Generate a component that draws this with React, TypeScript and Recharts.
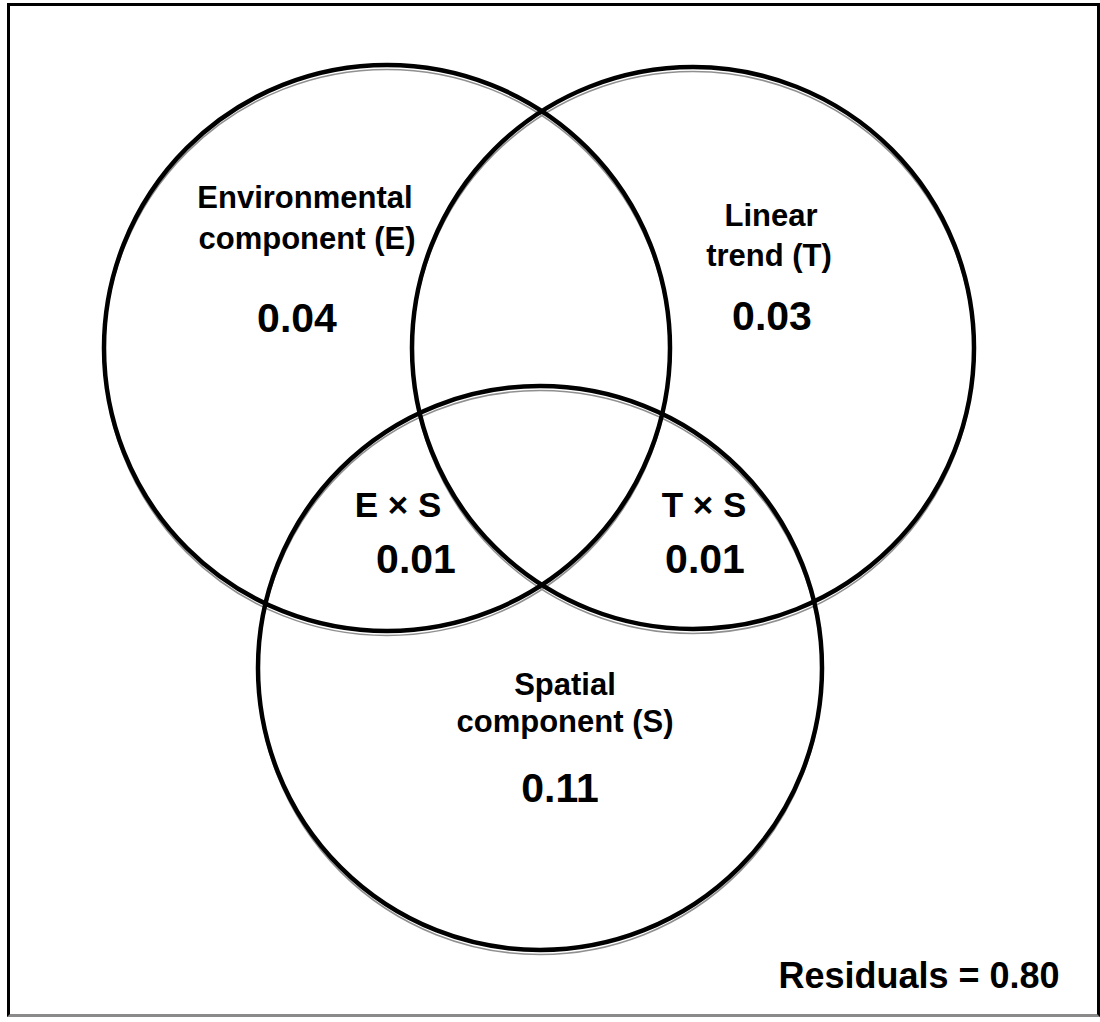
import { ScatterChart, Scatter, XAxis, YAxis } from 'recharts';

// plot units: 0-110 across, 0-102.2 down (top to bottom)
const setNames = ['E', 'T', 'S'];
const setCx = [38.7, 69.3, 54.0];
const setCy = [34.8, 34.8, 66.8];
const setR = [28.3, 28.1, 28.2];

const labelText = [
  'Environmental', 'component (E)', '0.04',
  'Linear', 'trend (T)', '0.03',
  'E × S', '0.01',
  'T × S', '0.01',
  'Spatial', 'component (S)', '0.11',
  'Residuals = 0.80',
];
const labelKind = [
  'name', 'name', 'value',
  'name', 'name', 'value',
  'cross', 'value',
  'cross', 'value',
  'name', 'name', 'value',
  'resid',
];
const labelX = [30.5, 30.7, 29.7, 77.1, 76.9, 77.2, 39.8, 41.6, 70.4, 70.5, 56.5, 56.5, 56.0, 91.9];
const labelY = [20.8, 24.9, 33.2, 22.6, 26.6, 33.0, 51.7, 57.3, 51.7, 57.3, 69.5, 73.2, 80.2, 98.8];

const fontSizes: Record<string, number> = { name: 31, value: 41, cross: 35, resid: 36 };
const FONT = '"Liberation Sans", Arial, Helvetica, sans-serif';

const circles = setNames.map((name, i) => ({ name, x: setCx[i], y: setCy[i], r: setR[i] }));
const labels = labelText.map((text, i) => ({ text, kind: labelKind[i], x: labelX[i], y: labelY[i] }));

function radiusPx(props: any) {
  const { payload, xAxis } = props;
  const scale = xAxis?.scale;
  if (scale) return Math.abs(scale(payload.x + payload.r) - scale(payload.x));
  return payload.r * 10;
}

// faint second line just below each ring, as in the scanned original
function Ghost(props: any) {
  const { cx, cy } = props;
  return <circle cx={cx} cy={cy + 4.5} r={radiusPx(props)} fill="none" stroke="#909090" strokeWidth={1.6} />;
}

function Ring(props: any) {
  const { cx, cy } = props;
  return <circle cx={cx} cy={cy} r={radiusPx(props)} fill="none" stroke="#000" strokeWidth={4.5} />;
}

function Label(props: any) {
  const { cx, cy, payload } = props;
  return (
    <text x={cx} y={cy} textAnchor="middle" fontFamily={FONT} fontWeight="bold"
      fontSize={fontSizes[payload.kind]} fill="#000">
      {payload.text}
    </text>
  );
}

export default function App() {
  return (
    <div style={{ position: 'absolute', left: 0, top: 0, width: 1100, height: 1022, background: '#fff' }}>
      <div style={{
        position: 'absolute', left: 7, top: 3, width: 1093, height: 1014, boxSizing: 'border-box',
        borderTop: '3px solid #000', borderLeft: '3px solid #000', borderRight: '3px solid #000',
        borderBottom: '3px solid #8a8a8a',
      }} />
      <div style={{ position: 'absolute', left: 0, top: 0 }}>
        <ScatterChart width={1100} height={1022} margin={{ top: 0, right: 0, bottom: 0, left: 0 }}>
          <XAxis type="number" dataKey="x" domain={[0, 110]} hide allowDataOverflow />
          <YAxis type="number" dataKey="y" domain={[0, 102.2]} reversed hide width={0} allowDataOverflow />
          <Scatter data={circles} shape={Ghost} isAnimationActive={false} />
          <Scatter data={circles} shape={Ring} isAnimationActive={false} />
          <Scatter data={labels} shape={Label} isAnimationActive={false} />
        </ScatterChart>
      </div>
    </div>
  );
}
